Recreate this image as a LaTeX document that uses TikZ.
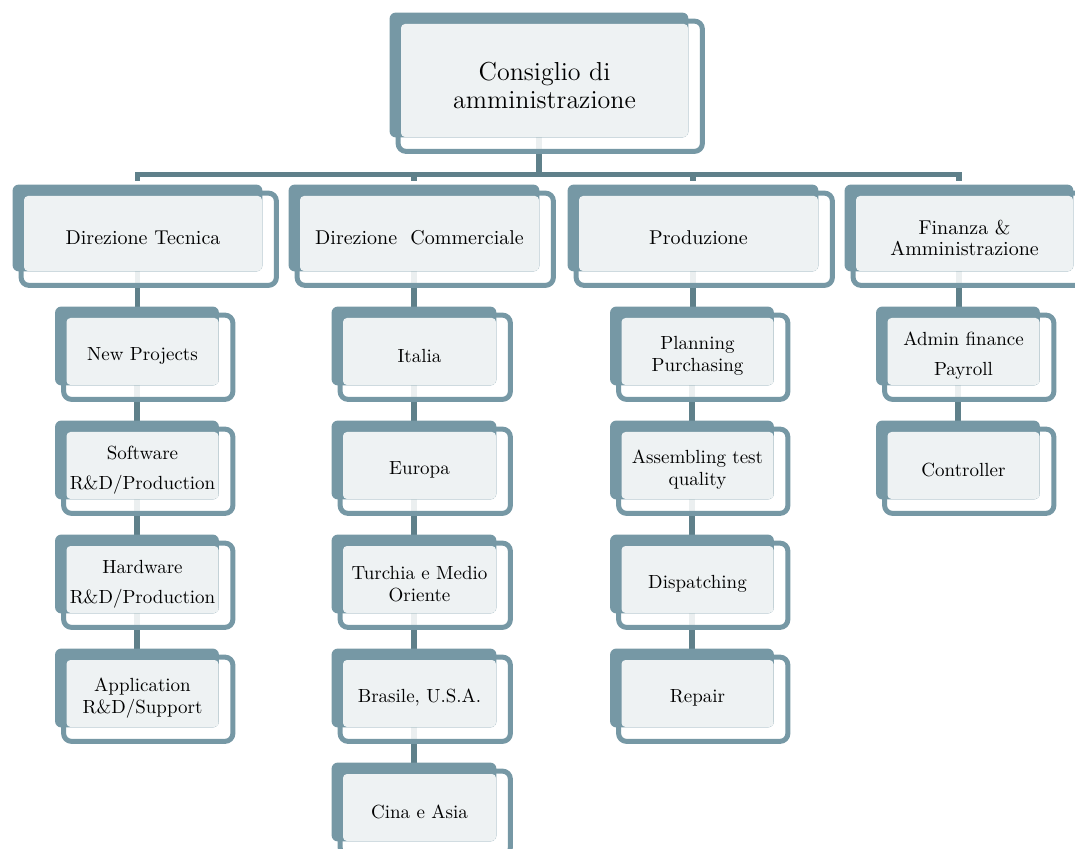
\documentclass[tikz,border=0pt]{standalone}
\usepackage{xcolor}
\usetikzlibrary{calc}
\definecolor{boxteal}{HTML}{7698A5}
\definecolor{boxgrey}{HTML}{EEF2F3}
\definecolor{linkteal}{HTML}{5F808A}
\pgfdeclarelayer{edge}
\pgfdeclarelayer{back}
\pgfsetlayers{edge,back,main}
% #1 text style, #2 name, #3 centre x, #4 top y, #5 width, #6 height, #7 text
\newcommand{\orgbox}[7][]{
 \node[gbox,minimum width={(#5-11)*0.5pt},minimum height={(#6-11)*0.5pt}] (#2)
      at ({#3+5.5},{#4+11+(#6-11)/2}) {};
 \node[gtext,#1] (#2-txt) at ($(#2.center)+(0,4.5)$) {#7};
 \begin{pgfonlayer}{back}
  \draw[outl] ($(#2.north west)+(-2.5,-2.5)$) rectangle ($(#2.south east)+(14,14)$);
  \fill[boxteal,rounded corners=3pt] ($(#2.north west)+(-11,-11)$) rectangle (#2.south east);
 \end{pgfonlayer}
 \coordinate (#2-t) at ($(#2.north)+(-5.5,-11)$);
 \coordinate (#2-b) at ($(#2.south)+(-5.5,0)$);
}

\begin{document}
\begin{tikzpicture}[x=0.5pt,y=-0.5pt,
  gbox/.style={fill=boxgrey,rounded corners=2pt,inner sep=0pt},
  gtext/.style={inner sep=0pt,align=center,text=black},
  outl/.style={draw=boxteal,line width=2.5pt,rounded corners=4pt,fill=white,fill opacity=0.88},
  link/.style={draw=linkteal,line width=2.6pt},
  ltop/.style={font=\fontsize{13}{14}\selectfont},
  lone/.style={font=\fontsize{10}{10.5}\selectfont},
  ltwo/.style={font=\fontsize{9.5}{11}\selectfont}]
 \useasboundingbox (0,0) rectangle (1075,849);

 % board
 \orgbox[ltop]{cda}{539}{13}{298}{124}{Consiglio di\\amministrazione}

 % directions
 \orgbox[lone]{dt}{137.5}{185}{249}{86}{Direzione Tecnica}
 \orgbox[lone]{dc}{414}{185}{250}{86}{Direzione\ \ Commerciale}
 \orgbox[lone]{prod}{693}{185}{250}{86}{Produzione}
 \orgbox[lone]{fin}{959}{185}{228}{86}{Finanza \&\\Amministrazione}

 % technical
 \orgbox[ltwo]{np}{137}{307}{163}{78}{New Projects}
 \orgbox[ltwo]{sw}{137}{421}{163}{78}{Software\\[4pt]R\&D/Production}
 \orgbox[ltwo]{hw}{137}{535}{163}{78}{Hardware\\[4pt]R\&D/Production}
 \orgbox[ltwo]{app}{137}{649}{163}{78}{Application\\R\&D/Support}

 % commercial
 \orgbox[ltwo]{ita}{414}{307}{164}{78}{Italia}
 \orgbox[ltwo]{eur}{414}{421}{164}{78}{Europa}
 \orgbox[ltwo]{tur}{414}{535}{164}{78}{Turchia e Medio\\Oriente}
 \orgbox[ltwo]{bra}{414}{649}{164}{78}{Brasile, U.S.A.}
 \orgbox[ltwo]{cin}{414}{763}{164}{78}{Cina e Asia}

 % production
 \orgbox[ltwo]{plan}{692}{307}{163}{78}{Planning\\Purchasing}
 \orgbox[ltwo]{ass}{692}{421}{163}{78}{Assembling test\\quality}
 \orgbox[ltwo]{disp}{692}{535}{163}{78}{Dispatching}
 \orgbox[ltwo]{rep}{692}{649}{163}{78}{Repair}

 % finance
 \orgbox[ltwo]{adm}{958}{307}{163}{78}{Admin finance\\[4pt]Payroll}
 \orgbox[ltwo]{ctrl}{958}{421}{163}{78}{Controller}

 \coordinate (bus) at ($(cda-b)+(0,37)$);
 \begin{pgfonlayer}{edge}
  \draw[link] (cda-b) -- (bus);
  \draw[link] ($(dt-t)+(0,-4)$) |- (bus);
  \draw[link] ($(fin-t)+(0,-4)$) |- (bus);
  \draw[link] ($(dc-t)+(0,-4)$) -- (dc-t |- bus);
  \draw[link] ($(prod-t)+(0,-4)$) -- (prod-t |- bus);

  \draw[link] (dt-b) -- (dt-b |- np-t);
  \draw[link] (np-b) -- (sw-t);
  \draw[link] (sw-b) -- (hw-t);
  \draw[link] (hw-b) -- (app-t);

  \draw[link] (dc-b) -- (ita-t);
  \draw[link] (ita-b) -- (eur-t);
  \draw[link] (eur-b) -- (tur-t);
  \draw[link] (tur-b) -- (bra-t);
  \draw[link] (bra-b) -- (cin-t);

  \draw[link] (prod-b) -- (prod-b |- plan-t);
  \draw[link] (plan-b) -- (ass-t);
  \draw[link] (ass-b) -- (disp-t);
  \draw[link] (disp-b) -- (rep-t);

  \draw[link] (fin-b) -- (fin-b |- adm-t);
  \draw[link] (adm-b) -- (ctrl-t);
 \end{pgfonlayer}
\end{tikzpicture}
\end{document}
